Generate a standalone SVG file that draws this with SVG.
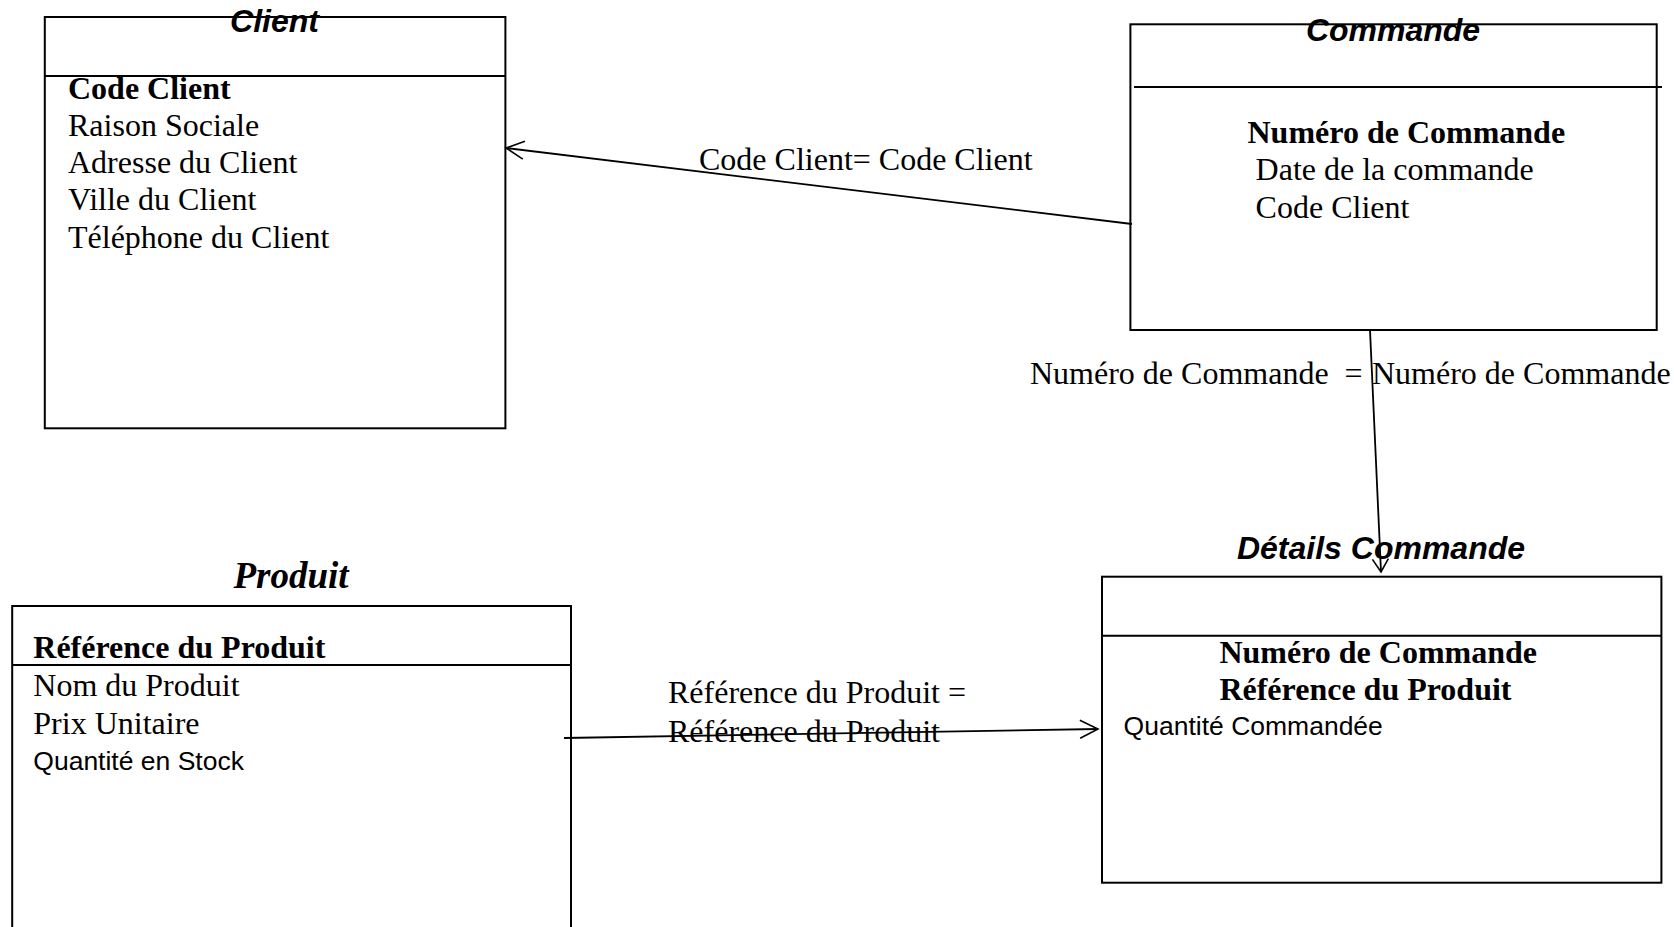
<svg xmlns="http://www.w3.org/2000/svg" width="1674" height="927" viewBox="0 0 1674 927">
  <style>
    .box { fill: none; stroke: #000; stroke-width: 2; }
    .rule { stroke: #000; stroke-width: 2; }
    .link { fill: none; stroke: #000; stroke-width: 1.8; }
    .title { font-family: "Liberation Sans", Arial, sans-serif; font-weight: bold; font-style: italic; font-size: 32px; fill: #000; text-anchor: middle; }
    .title-serif { font-family: "Liberation Serif", "Times New Roman", serif; font-weight: bold; font-style: italic; font-size: 37px; fill: #000; text-anchor: middle; }
    .attr { font-family: "Liberation Serif", "Times New Roman", serif; font-size: 32px; fill: #000; }
    .key { font-weight: bold; }
    .attr-sans { font-family: "Liberation Sans", Arial, sans-serif; font-size: 26.5px; fill: #000; }
    .label { font-family: "Liberation Serif", "Times New Roman", serif; font-size: 32px; fill: #000; }
  </style>
  <defs>
    <marker id="open-arrow" markerUnits="userSpaceOnUse" viewBox="-22 -12 26 24" markerWidth="26" markerHeight="24" refX="0" refY="0" orient="auto">
      <path d="M-18,-9 L0,0 L-18,9" fill="none" stroke="#000" stroke-width="1.6"/>
    </marker>
    <marker id="open-arrow-sm" markerUnits="userSpaceOnUse" viewBox="-18 -10 22 20" markerWidth="22" markerHeight="20" refX="0" refY="0" orient="auto">
      <path d="M-13,-8 L0,0 L-13,8" fill="none" stroke="#000" stroke-width="1.6"/>
    </marker>
  </defs>

  <rect width="1674" height="927" fill="#fff"/>

  <!-- Relationship lines -->
  <g id="connectors">
    <line class="link" x1="1132" y1="224" x2="506" y2="148" marker-end="url(#open-arrow)"/>
    <text class="label" x="699" y="170">Code Client= Code Client</text>

    <line class="link" x1="1370" y1="330" x2="1381" y2="572" marker-end="url(#open-arrow-sm)"/>
    <text class="label" x="1030" y="384" xml:space="preserve">Numéro de Commande  =</text>
    <text class="label" x="1372" y="384">Numéro de Commande</text>

    <line class="link" x1="564" y1="738" x2="1098" y2="729" marker-end="url(#open-arrow)"/>
    <text class="label" x="668" y="703">Référence du Produit =</text>
    <text class="label" x="668" y="742">Référence du Produit</text>
  </g>

  <!-- Client table -->
  <g id="client">
    <rect class="box" x="44.8" y="17" width="460.6" height="411.3"/>
    <line class="rule" x1="44.8" y1="76" x2="505.4" y2="76"/>
    <text class="title" x="274.5" y="32">Client</text>
    <text class="attr key" x="68" y="99">Code Client</text>
    <text class="attr" x="68" y="136">Raison Sociale</text>
    <text class="attr" x="68" y="173">Adresse du Client</text>
    <text class="attr" x="68" y="210">Ville du Client</text>
    <text class="attr" x="68" y="248">Téléphone du Client</text>
  </g>

  <!-- Commande table -->
  <g id="commande">
    <rect class="box" x="1130.4" y="24.3" width="526.3" height="305.7"/>
    <line class="rule" x1="1134" y1="87" x2="1662" y2="87"/>
    <text class="title" x="1393" y="40.7">Commande</text>
    <text class="attr key" x="1247.5" y="143">Numéro de Commande</text>
    <text class="attr" x="1255.6" y="180">Date de la commande</text>
    <text class="attr" x="1255.6" y="218">Code Client</text>
  </g>

  <!-- Produit table (runs past the bottom edge) -->
  <g id="produit">
    <path class="box" d="M12.2,935 V606 H571 V935"/>
    <line class="rule" x1="12.2" y1="665" x2="571" y2="665"/>
    <text class="title-serif" x="291" y="588">Produit</text>
    <text class="attr key" x="33.3" y="658">Référence du Produit</text>
    <text class="attr" x="33.3" y="696">Nom du Produit</text>
    <text class="attr" x="33.3" y="734">Prix Unitaire</text>
    <text class="attr-sans" x="33.3" y="770">Quantité en Stock</text>
  </g>

  <!-- Détails Commande table -->
  <g id="details-commande">
    <rect class="box" x="1102" y="576.7" width="559.4" height="306"/>
    <line class="rule" x1="1102" y1="635.7" x2="1661.4" y2="635.7"/>
    <text class="title" x="1381" y="559">Détails Commande</text>
    <text class="attr key" x="1219.4" y="663">Numéro de Commande</text>
    <text class="attr key" x="1219.4" y="700">Référence du Produit</text>
    <text class="attr-sans" x="1123.6" y="735">Quantité Commandée</text>
  </g>
</svg>
